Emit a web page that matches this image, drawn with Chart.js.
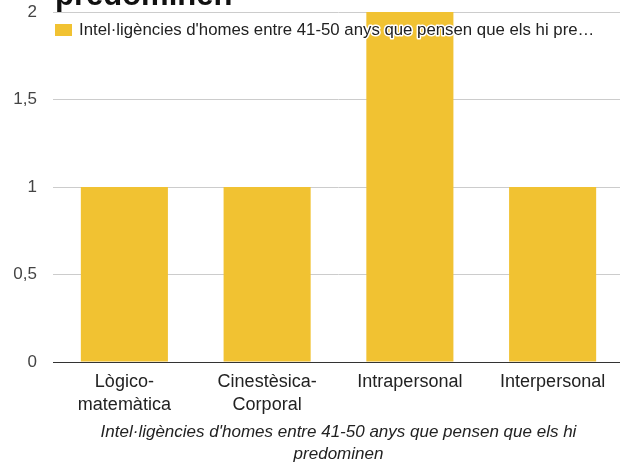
<!DOCTYPE html>
<html>
<head>
<meta charset="utf-8">
<script src="https://cdn.jsdelivr.net/npm/chart.js@4/dist/chart.umd.min.js"></script>
<style>
  body { margin: 0; overflow: hidden; background: #fff; }
  #wrap { position: relative; width: 624px; height: 468px; }
</style>
</head>
<body>
<div id="wrap"><canvas id="myChart"></canvas></div>
<script>
'use strict';

// Chart data
let categories = [['Lògico-', 'matemàtica'], ['Cinestèsica-', 'Corporal'], 'Intrapersonal', 'Interpersonal'];
let values = [1, 1, 2, 1];
let yTicks = [0, 0.5, 1, 1.5, 2];
let seriesName = 'Intel·ligències d\'homes entre 41-50 anys que pensen que els hi predominen';
let legendText = 'Intel·ligències d\'homes entre 41-50 anys que pensen que els hi pre…';
let axisTitle = ['Intel·ligències d\'homes entre 41-50 anys que pensen que els hi', 'predominen'];
let chartTitle = 'predominen';

let barColor = '#f1c232';
let fontFamily = 'Arial, "Liberation Sans", sans-serif';

// title is cut off at the top, only the bottom of the letters shows
let cutTitle = {
  id: 'cutTitle',
  afterDraw(chart) {
    let ctx = chart.ctx;
    ctx.save();
    ctx.font = 'bold 31px ' + fontFamily;
    ctx.fillStyle = '#111';
    ctx.textBaseline = 'alphabetic';
    ctx.fillText(chartTitle, chart.chartArea.left + 2, 5);
    ctx.restore();
  }
};

// legend sits inside the plot, over the bars
let innerLegend = {
  id: 'innerLegend',
  afterDatasetsDraw(chart) {
    let ctx = chart.ctx;
    let x = chart.chartArea.left + 2;
    let y = chart.chartArea.top + 18;
    ctx.save();
    ctx.fillStyle = barColor;
    ctx.fillRect(x, y - 6, 17, 12);
    ctx.font = '16.8px ' + fontFamily;
    ctx.textBaseline = 'middle';
    ctx.lineJoin = 'round';
    ctx.lineWidth = 3;
    ctx.strokeStyle = '#fff';
    ctx.strokeText(legendText, x + 24, y);
    ctx.fillStyle = '#222';
    ctx.fillText(legendText, x + 24, y);
    ctx.restore();
  }
};

let ctx = document.getElementById('myChart').getContext('2d');
let myChart = new Chart(ctx, { // eslint-disable-line
  type: 'bar',
  data: {
    labels: categories,
    datasets: [{
      label: seriesName,
      data: values,
      backgroundColor: barColor,
      categoryPercentage: 1,
      barPercentage: 0.61
    }]
  },
  options: {
    responsive: true,
    maintainAspectRatio: false,
    animation: false,
    layout: { padding: { top: 12, left: 0, right: 0, bottom: 0 } },
    plugins: {
      legend: { display: false },
      tooltip: { enabled: false }
    },
    scales: {
      x: {
        grid: { display: false },
        border: { color: '#333', width: 1 },
        ticks: {
          color: '#222',
          font: { family: fontFamily, size: 18, lineHeight: 1.3 },
          padding: 0,
          maxRotation: 0,
          autoSkip: false
        },
        title: {
          display: true,
          text: axisTitle,
          color: '#222',
          font: { family: fontFamily, size: 17, style: 'italic', lineHeight: 1.3 },
          padding: { top: 0, bottom: 3 }
        },
        afterFit(scale) {
          scale.height = 106;
          scale.paddingLeft = 0;
          scale.paddingRight = 0;
        }
      },
      y: {
        min: 0,
        max: 2,
        afterBuildTicks(scale) { scale.ticks = yTicks.map(v => ({ value: v })); },
        grid: {
          color: (c) => c.tick && c.tick.value === 0 ? '#333' : '#ccc',
          drawTicks: false
        },
        border: { display: false },
        ticks: {
          color: '#444',
          font: { family: fontFamily, size: 17 },
          padding: 16,
          callback: (v) => String(v).replace('.', ',')
        },
        afterFit(scale) {
          scale.width = 53;
          scale.paddingTop = 0;
          scale.paddingBottom = 0;
        }
      }
    }
  },
  plugins: [cutTitle, innerLegend]
});
</script>
</body>
</html>
